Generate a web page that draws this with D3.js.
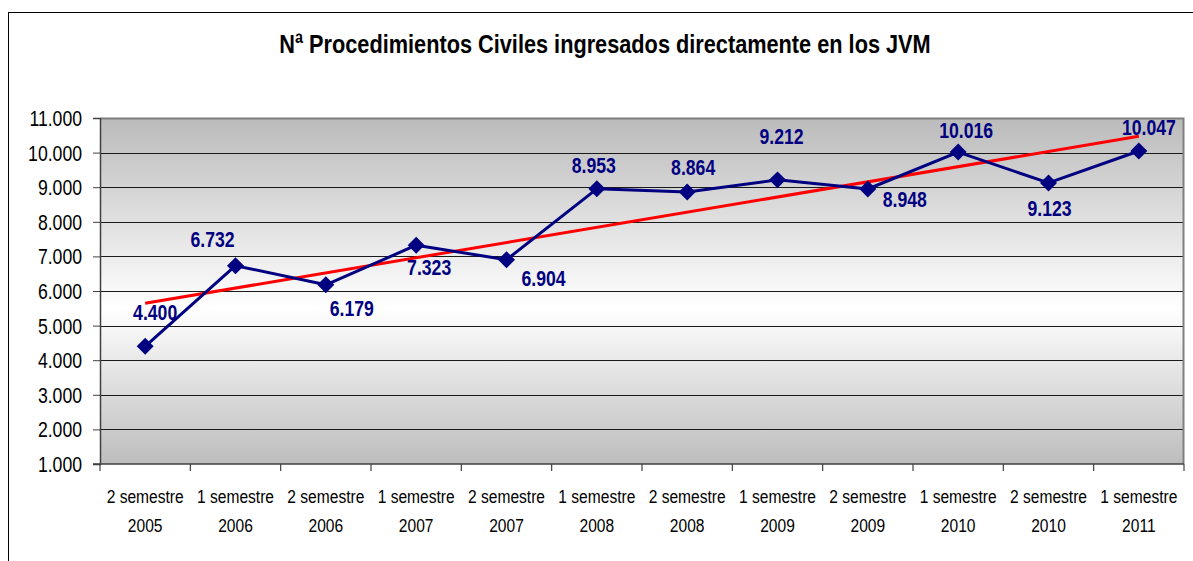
<!DOCTYPE html>
<html>
<head>
<meta charset="utf-8">
<script src="https://cdn.jsdelivr.net/npm/d3@7"></script>
<style>
  body { margin: 0; background: #fff; }
  svg text { font-family: "Liberation Sans", Arial, sans-serif; }
</style>
</head>
<body>
<script>
// chart values
var semesters = ["2 semestre", "1 semestre", "2 semestre", "1 semestre", "2 semestre", "1 semestre",
                 "2 semestre", "1 semestre", "2 semestre", "1 semestre", "2 semestre", "1 semestre"];
var years = ["2005", "2006", "2006", "2007", "2007", "2008", "2008", "2009", "2009", "2010", "2010", "2011"];
var values = [4400, 6732, 6179, 7323, 6904, 8953, 8864, 9212, 8948, 10016, 9123, 10047];
var yTicks = [1000, 2000, 3000, 4000, 5000, 6000, 7000, 8000, 9000, 10000, 11000];
var title = "Nª Procedimientos Civiles ingresados directamente en los JVM";

// where each data label sits relative to its marker (moved by hand in the original)
var labelOffsets = [[10, -26], [-23, -19], [26, 31], [13, 30], [37, 26], [-3, -16],
                    [6, -17], [4, -36], [37, 18], [8, -14], [1, 33], [10, -16]];

var W = 1193, H = 561;
var margin = {top: 118, right: 9, bottom: 97, left: 100};
var width = W - margin.left - margin.right;   // 1084
var height = H - margin.top - margin.bottom;  // 346
var narrow = 0.82; // Arial Narrow look: squeeze Liberation Sans horizontally

var fmt = function(v) { return d3.format(",")(v).replace(/,/g, "."); };

// place a text at (x,y) squeezed horizontally
function place(sel, fx, fy) {
  sel.attr("transform", function(d, i) {
    var px = typeof fx === "function" ? fx(d, i) : fx;
    var py = typeof fy === "function" ? fy(d, i) : fy;
    return "translate(" + px + "," + py + ") scale(" + narrow + ",1)";
  });
  return sel;
}

var svg = d3.select("body").append("svg")
    .attr("width", W)
    .attr("height", H);

// outer chart border (runs off the right and bottom of the picture)
svg.append("rect")
    .attr("x", 8.5).attr("y", 12.5)
    .attr("width", W).attr("height", H)
    .attr("fill", "none").attr("stroke", "#000").attr("stroke-width", 1);

place(svg.append("text"), 605, 53)
    .attr("text-anchor", "middle")
    .attr("font-size", 26.5).attr("font-weight", "bold")
    .text(title);

// plot background gradient gray-white-gray
var defs = svg.append("defs");
var grad = defs.append("linearGradient")
    .attr("id", "bg").attr("x1", 0).attr("y1", 0).attr("x2", 0).attr("y2", 1);
grad.append("stop").attr("offset", "0%").attr("stop-color", "#bbbbbb");
grad.append("stop").attr("offset", "55%").attr("stop-color", "#ffffff");
grad.append("stop").attr("offset", "100%").attr("stop-color", "#bdbdbd");

var g = svg.append("g")
    .attr("transform", "translate(" + margin.left + "," + margin.top + ")");

var x = d3.scaleBand().domain(d3.range(values.length)).range([0, width]).paddingInner(0).paddingOuter(0);
var y = d3.scaleLinear().domain([1000, 11000]).range([height, 0]);
var cx = function(i) { return x(i) + x.bandwidth() / 2; };

g.append("rect")
    .attr("width", width).attr("height", height)
    .attr("fill", "url(#bg)");

// gridlines
g.selectAll(".grid")
    .data(yTicks.slice(1, -1))
  .enter().append("line")
    .attr("class", "grid")
    .attr("x1", 0).attr("x2", width)
    .attr("y1", function(d) { return Math.round(y(d)) + 0.5; })
    .attr("y2", function(d) { return Math.round(y(d)) + 0.5; })
    .attr("stroke", "#1a1a1a").attr("stroke-width", 1);

// plot border top/right
g.append("path")
    .attr("d", "M0.5,0.5H" + (width - 0.5) + "V" + height)
    .attr("fill", "none").attr("stroke", "#808080").attr("stroke-width", 2);

// y axis
var yAxis = g.append("g")
    .call(d3.axisLeft(y).tickValues(yTicks).tickSize(7).tickFormat(""));
yAxis.select(".domain").attr("stroke", "#404040").attr("stroke-width", 1.5);
yAxis.selectAll(".tick line").attr("stroke", "#404040");
place(g.selectAll(".ylab").data(yTicks).enter().append("text").attr("class", "ylab"),
      -18, function(d) { return y(d) + 8; })
    .attr("text-anchor", "end")
    .attr("font-size", 21.5)
    .text(fmt);

// x axis: ticks between categories
var xg = g.append("g").attr("transform", "translate(0," + height + ")");
xg.append("line")
    .attr("x1", -7).attr("x2", width)
    .attr("stroke", "#404040").attr("stroke-width", 1.5);
xg.selectAll(".xtick")
    .data(d3.range(values.length + 1))
  .enter().append("line")
    .attr("class", "xtick")
    .attr("x1", function(i) { return i < values.length ? x(i) : width; })
    .attr("x2", function(i) { return i < values.length ? x(i) : width; })
    .attr("y1", 0).attr("y2", 7)
    .attr("stroke", "#404040").attr("stroke-width", 1.2);
place(xg.selectAll(".xlab").data(d3.range(values.length)).enter().append("text").attr("class", "xlab"),
      cx, 39)
    .attr("text-anchor", "middle")
    .attr("font-size", 19)
    .text(function(i) { return semesters[i]; });
place(xg.selectAll(".xyear").data(d3.range(values.length)).enter().append("text").attr("class", "xyear"),
      cx, 68)
    .attr("text-anchor", "middle")
    .attr("font-size", 19)
    .text(function(i) { return years[i]; });

// linear trendline (as Excel computes it)
var xs = d3.range(1, values.length + 1);
var mx = d3.mean(xs), my = d3.mean(values);
var slope = d3.sum(xs, function(v, i) { return (v - mx) * (values[i] - my); }) /
            d3.sum(xs, function(v) { return (v - mx) * (v - mx); });
var icpt = my - slope * mx;
g.append("line")
    .attr("x1", cx(0)).attr("y1", y(icpt + slope * 1))
    .attr("x2", cx(values.length - 1)).attr("y2", y(icpt + slope * values.length))
    .attr("stroke", "#ff0000").attr("stroke-width", 3);

// series line
var line = d3.line()
    .x(function(d, i) { return cx(i); })
    .y(function(d) { return y(d); });
g.append("path")
    .datum(values)
    .attr("d", line)
    .attr("fill", "none").attr("stroke", "#000080").attr("stroke-width", 3)
    .attr("stroke-linejoin", "round");

g.selectAll(".marker")
    .data(values)
  .enter().append("path")
    .attr("class", "marker")
    .attr("d", d3.symbol().type(d3.symbolSquare).size(144))
    .attr("transform", function(d, i) { return "translate(" + cx(i) + "," + y(d) + ") rotate(45)"; })
    .attr("fill", "#000080");

// data labels
place(g.selectAll(".dlabel").data(values).enter().append("text").attr("class", "dlabel"),
      function(d, i) { return cx(i) + labelOffsets[i][0]; },
      function(d, i) { return y(d) + labelOffsets[i][1]; })
    .attr("text-anchor", "middle")
    .attr("font-size", 21.5).attr("font-weight", "bold")
    .attr("fill", "#000080")
    .text(fmt);
</script>
</body>
</html>
